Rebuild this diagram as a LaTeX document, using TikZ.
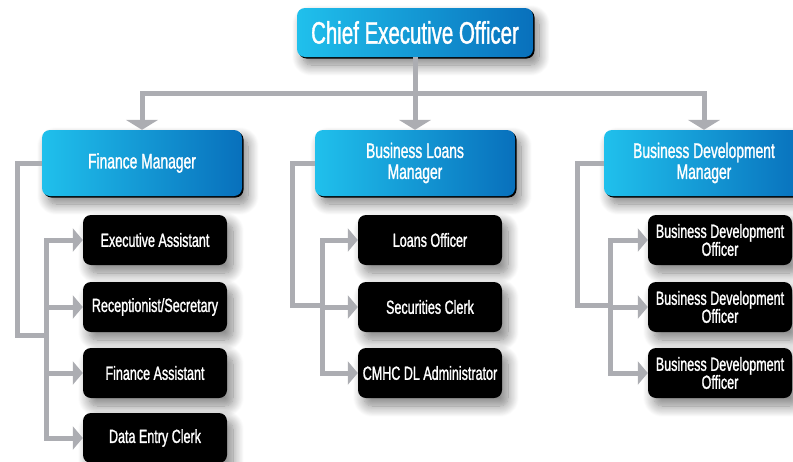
\documentclass[tikz,border=0pt]{standalone}
\usepackage{fontspec}
\setmainfont{Liberation Sans}[FakeStretch=0.66, FakeBold=1.2]
\usetikzlibrary{arrows.meta, shadows, shadows.blur}

\definecolor{boxcyan}{RGB}{32,192,236}
\definecolor{boxblue}{RGB}{8,112,188}
\definecolor{linkgray}{RGB}{172,173,178}

\begin{document}
\begin{tikzpicture}[x=1pt, y=-1pt,
    softshadow/.style={blur shadow={shadow xshift=6pt, shadow yshift=-8pt,
        shadow blur radius=11pt, shadow blur steps=14, shadow opacity=50}},
    headbox/.style={softshadow,
        drop shadow={shadow xshift=1.5pt, shadow yshift=-1.5pt, fill=black, opacity=1},
        rounded corners=8pt, left color=boxcyan, right color=boxblue,
        text=white, align=center, inner sep=0pt},
    manager/.style={headbox, minimum width=200pt, minimum height=66pt,
        font=\fontsize{21}{21}\selectfont},
    staffbox/.style={softshadow, rounded corners=8pt, fill=black, text=white,
        align=center, inner sep=0pt, minimum width=144pt, minimum height=50pt,
        font=\fontsize{19}{18}\selectfont},
    link/.style={linkgray, line width=5pt},
    downtip/.style={-{Triangle[width=32pt, length=10pt]}},
    sidetip/.style={-{Triangle[width=23pt, length=10pt]}},
  ]
    \clip (0,0) rectangle (793,461);

    % Top of the chart
    \node[headbox, minimum width=236pt, minimum height=49pt,
        font=\fontsize{31}{31}\selectfont] (ceo) at (415,32.5) {Chief Executive Officer};

    % Managers
    \node[manager] (fin)   at (142,163) {Finance Manager};
    \node[manager] (loans) at (415,163) {Business Loans\\Manager};
    \node[manager] (bdev)  at (704,163) {Business Development\\Manager};

    % Staff under each manager
    \foreach \name/\y/\txt in {fin1/240/{Executive Assistant}, fin2/307/{Receptionist/Secretary},
                               fin3/373/{Finance Assistant}, fin4/438/{Data Entry Clerk}} {
        \node[staffbox] (\name) at (155,\y) {\txt};
    }
    \foreach \name/\y/\txt in {loan1/240/{Loans Officer}, loan2/307/{Securities Clerk},
                               loan3/373/{CMHC DL Administrator}} {
        \node[staffbox] (\name) at (430,\y) {\txt};
    }
    \foreach \name/\y in {bd1/240, bd2/307, bd3/373} {
        \node[staffbox] (\name) at (720,\y) {Business Development\\Officer};
    }

    % CEO to managers
    \coordinate (bar) at (0,93.5);
    \draw[link, downtip] (ceo.south) -- (loans.north);
    \draw[link, {Triangle[width=32pt, length=10pt]}-{Triangle[width=32pt, length=10pt]}]
        (fin.north) -- (fin.north |- bar) -- (bdev.north |- bar) -- (bdev.north);

    % Finance branch
    \coordinate (finbus) at (46,335);
    \draw[link] (fin.west) -- ++(-24.5,0) |- (finbus);
    \draw[link, {Triangle[width=23pt, length=10pt]}-{Triangle[width=23pt, length=10pt]}]
        (fin1.west) -- (finbus |- fin1) -- (finbus |- fin4) -- (fin4.west);
    \foreach \i in {2,3} {
        \draw[link, sidetip] (finbus |- fin\i) -- (fin\i.west);
    }

    % Loans branch
    \coordinate (loanbus) at (322,305);
    \draw[link] (loans.west) -- ++(-22,0) |- (loanbus);
    \draw[link, {Triangle[width=23pt, length=10pt]}-{Triangle[width=23pt, length=10pt]}]
        (loan1.west) -- (loanbus |- loan1) -- (loanbus |- loan3) -- (loan3.west);
    \draw[link, sidetip] (loanbus |- loan2) -- (loan2.west);

    % Business development branch
    \coordinate (bdbus) at (610,305);
    \draw[link] (bdev.west) -- ++(-26,0) |- (bdbus);
    \draw[link, {Triangle[width=23pt, length=10pt]}-{Triangle[width=23pt, length=10pt]}]
        (bd1.west) -- (bdbus |- bd1) -- (bdbus |- bd3) -- (bd3.west);
    \draw[link, sidetip] (bdbus |- bd2) -- (bd2.west);
\end{tikzpicture}
\end{document}
